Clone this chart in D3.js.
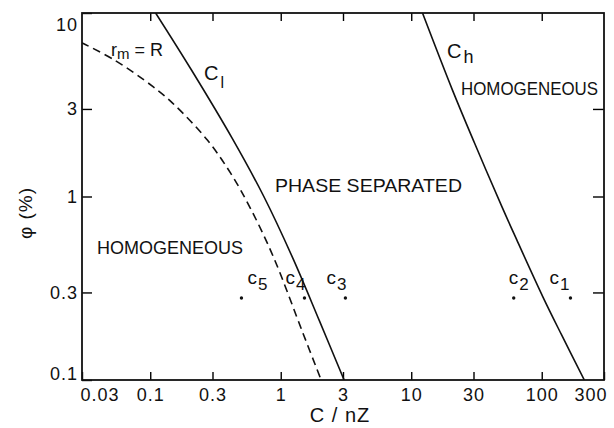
<!DOCTYPE html>
<html>
<head>
<meta charset="utf-8">
<script src="https://cdn.jsdelivr.net/npm/d3@7"></script>
<style>
  body { margin: 0; background: #fff; }
  svg { display: block; font-family: "Liberation Sans", Arial, sans-serif; }
</style>
</head>
<body>
<svg width="614" height="428"></svg>
<script>
// axis ticks
const xTickVals = [0.1, 0.3, 1, 3, 10, 30, 100];
const xLabelVals = [0.03, 0.1, 0.3, 1, 3, 10, 30, 100, 300];
const yTickVals = [0.3, 1, 3];
const yLabelVals = [0.1, 0.3, 1, 3, 10];

// boundary curves (C/nZ, phi %)
const clC   = [0.11, 0.207, 0.424, 0.742, 1.24, 1.98, 3.06];
const clPhi = [10, 4.89, 2.08, 1.0, 0.46, 0.21, 0.1];

const chC   = [12.2, 20.7, 30.6, 49.5, 64.4, 102, 142, 212];
const chPhi = [10, 3.8, 1.95, 0.88, 0.58, 0.284, 0.176, 0.1];

const rmC   = [0.0297, 0.053, 0.105, 0.149, 0.274, 0.413, 0.587, 0.877, 1.48, 2.04];
const rmPhi = [6.9, 5.55, 3.97, 3.22, 2.03, 1.34, 0.86, 0.47, 0.18, 0.1];

// samples
const sampleNames = ["1", "2", "3", "4", "5"];
const sampleC     = [166, 61, 3.13, 1.52, 0.50];
const samplePhi   = [0.28, 0.28, 0.28, 0.28, 0.28];

const svg = d3.select("svg");
const width = +svg.attr("width");
const height = +svg.attr("height");
const margin = {top: 13, right: 10, bottom: 48, left: 82};

const x = d3.scaleLog()
  .domain([0.03, 300])
  .range([margin.left, width - margin.right]);

const y = d3.scaleLog()
  .domain([0.1, 10])
  .range([height - margin.bottom, margin.top]);

const fmt = d => String(d);

// bottom axis, ticks inward
const gx = svg.append("g")
  .attr("transform", `translate(0,${height - margin.bottom})`)
  .call(d3.axisBottom(x).tickValues(xLabelVals).tickFormat(fmt)
    .tickSizeInner(-8).tickSizeOuter(0).tickPadding(8));
gx.select(".domain").remove();
gx.selectAll("line").attr("stroke-width", 1.4);
gx.selectAll("text").attr("font-size", 18).attr("letter-spacing", 1).attr("fill", "#111");
gx.selectAll(".tick").filter(d => d === 0.03).select("text").attr("text-anchor", "start").attr("dx", -2);
gx.selectAll(".tick").filter(d => d === 300).select("text").attr("text-anchor", "end").attr("dx", 3);

// top axis
const gt = svg.append("g")
  .attr("transform", `translate(0,${margin.top})`)
  .call(d3.axisTop(x).tickValues(xTickVals).tickFormat("")
    .tickSizeInner(-8).tickSizeOuter(0));
gt.select(".domain").remove();
gt.selectAll("line").attr("stroke-width", 1.4);

// left axis
const gy = svg.append("g")
  .attr("transform", `translate(${margin.left},0)`)
  .call(d3.axisLeft(y).tickValues(yLabelVals).tickFormat(fmt)
    .tickSizeInner(-10).tickSizeOuter(0).tickPadding(4));
gy.select(".domain").remove();
gy.selectAll("line").attr("stroke-width", 1.4);
gy.selectAll("text").attr("font-size", 18).attr("letter-spacing", 1).attr("fill", "#111");
gy.selectAll(".tick").filter(d => d === 10).select("text").attr("dy", "0.95em");
gy.selectAll(".tick").filter(d => d === 0.1).select("text").attr("dy", "-0.05em");

// right axis
const gr = svg.append("g")
  .attr("transform", `translate(${width - margin.right},0)`)
  .call(d3.axisRight(y).tickValues(yTickVals).tickFormat("")
    .tickSizeInner(-11).tickSizeOuter(0));
gr.select(".domain").remove();
gr.selectAll("line").attr("stroke-width", 1.4);

// frame
svg.append("rect")
  .attr("x", margin.left)
  .attr("y", margin.top)
  .attr("width", width - margin.left - margin.right)
  .attr("height", height - margin.top - margin.bottom)
  .attr("fill", "none")
  .attr("stroke", "#111")
  .attr("stroke-width", 1.8);

// curves
svg.append("clipPath").attr("id", "clip")
  .append("rect")
  .attr("x", margin.left).attr("y", margin.top)
  .attr("width", width - margin.left - margin.right)
  .attr("height", height - margin.top - margin.bottom);

const line = d3.line()
  .x(d => x(d[0]))
  .y(d => y(d[1]))
  .curve(d3.curveCatmullRom.alpha(0.5));

const curves = [
  {c: clC, p: clPhi, dash: null},
  {c: chC, p: chPhi, dash: null},
  {c: rmC, p: rmPhi, dash: "8,5"}
];

svg.append("g").attr("clip-path", "url(#clip)")
  .selectAll("path")
  .data(curves)
  .join("path")
    .attr("d", d => line(d.c.map((v, i) => [v, d.p[i]])))
    .attr("fill", "none")
    .attr("stroke", "#111")
    .attr("stroke-width", 1.6)
    .attr("stroke-dasharray", d => d.dash);

// sample points
const labelDx = [-21, -5, -19, -19, 6];
svg.append("g")
  .selectAll("circle")
  .data(sampleC)
  .join("circle")
    .attr("cx", d => x(d))
    .attr("cy", (d, i) => y(samplePhi[i]))
    .attr("r", 1.7)
    .attr("fill", "#111");

const sl = svg.append("g")
  .selectAll("text")
  .data(sampleC)
  .join("text")
    .attr("x", (d, i) => x(d) + labelDx[i])
    .attr("y", (d, i) => y(samplePhi[i]) - 14)
    .attr("font-size", 19)
    .attr("fill", "#111");
sl.append("tspan").text("c");
sl.append("tspan").attr("dy", 6).attr("dx", 1).attr("font-size", 17).text((d, i) => sampleNames[i]);

// curve labels
const cl = svg.append("text").attr("x", 204).attr("y", 80).attr("font-size", 20).attr("fill", "#111");
cl.append("tspan").text("C");
cl.append("tspan").attr("dy", 8).attr("dx", 2).attr("font-size", 16).text("l");

const ch = svg.append("text").attr("x", 447).attr("y", 58).attr("font-size", 20).attr("fill", "#111");
ch.append("tspan").text("C");
ch.append("tspan").attr("dy", 5).attr("dx", 2).attr("font-size", 18).text("h");

const rm = svg.append("text").attr("x", 111).attr("y", 56).attr("font-size", 18).attr("fill", "#111");
rm.append("tspan").text("r");
rm.append("tspan").attr("dy", 3).attr("font-size", 15).text("m");
rm.append("tspan").attr("dy", -3).text(" = R");

// region labels
svg.append("text").attr("x", 461).attr("y", 95).attr("font-size", 19)
  .attr("textLength", 137).attr("lengthAdjust", "spacingAndGlyphs")
  .attr("fill", "#111").text("HOMOGENEOUS");
svg.append("text").attr("x", 275).attr("y", 192).attr("font-size", 19)
  .attr("textLength", 187).attr("lengthAdjust", "spacingAndGlyphs")
  .attr("fill", "#111").text("PHASE SEPARATED");
svg.append("text").attr("x", 97).attr("y", 254).attr("font-size", 19)
  .attr("textLength", 146).attr("lengthAdjust", "spacingAndGlyphs")
  .attr("fill", "#111").text("HOMOGENEOUS");

// axis titles
svg.append("text")
  .attr("x", 340).attr("y", 422)
  .attr("text-anchor", "middle")
  .attr("font-size", 20)
  .attr("letter-spacing", 1)
  .attr("fill", "#111")
  .text("C / nZ");

svg.append("text")
  .attr("transform", "rotate(-90)")
  .attr("x", -213).attr("y", 32)
  .attr("text-anchor", "middle")
  .attr("font-size", 19)
  .attr("letter-spacing", 1)
  .attr("fill", "#111")
  .text("φ (%)");
</script>
</body>
</html>
